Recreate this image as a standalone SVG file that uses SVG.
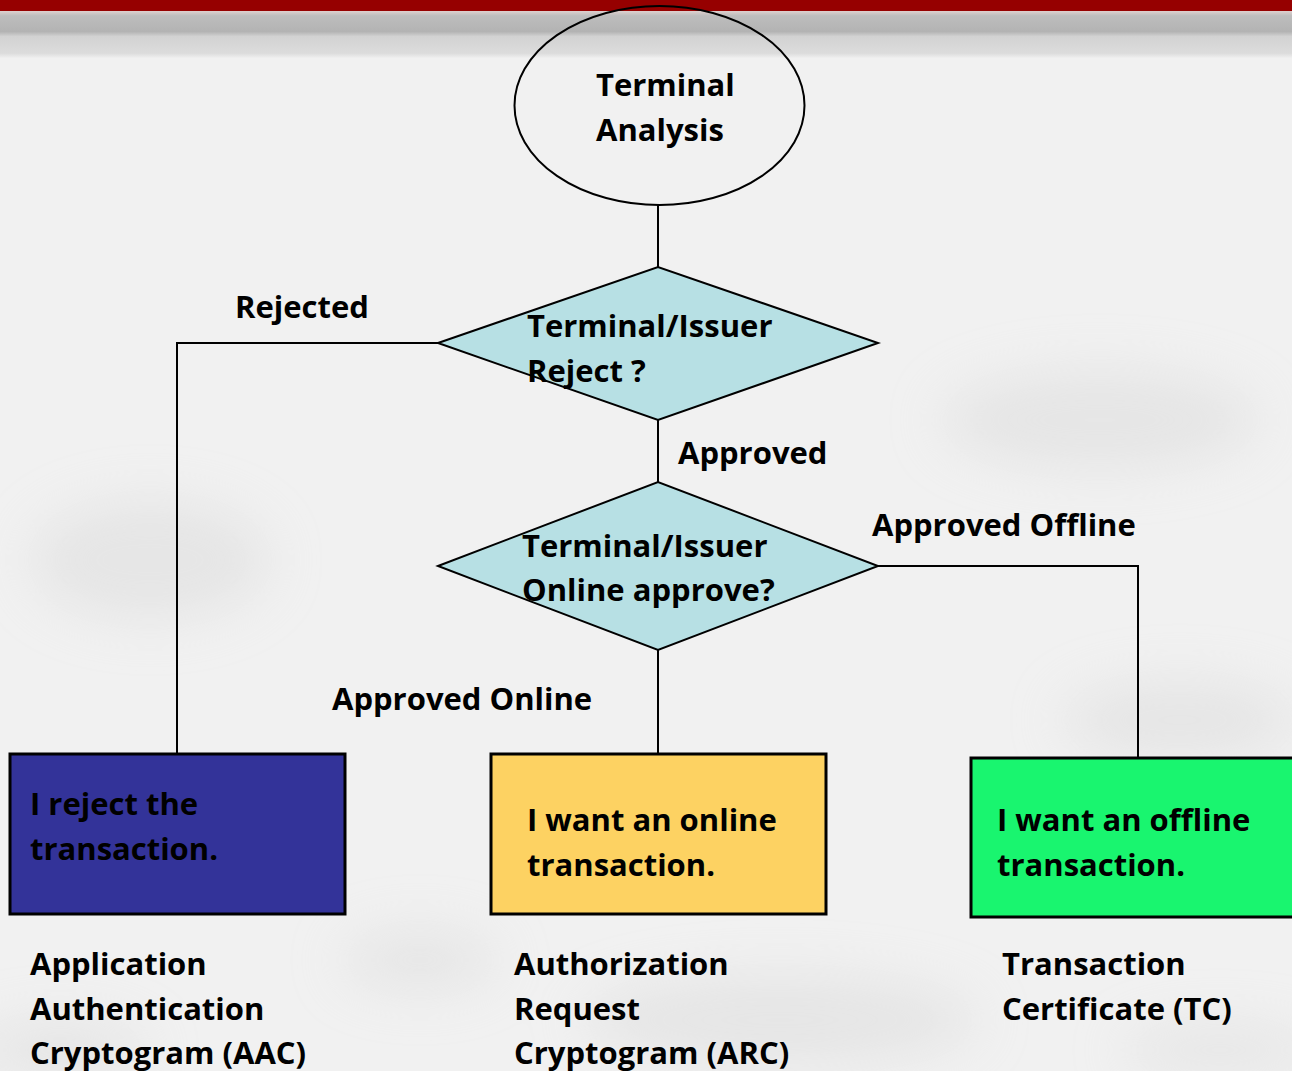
<svg xmlns="http://www.w3.org/2000/svg" width="1292" height="1071" viewBox="0 0 1292 1071">
  <defs>
    <linearGradient id="band" x1="0" y1="0" x2="0" y2="1">
      <stop offset="0" stop-color="#e6d4d2"/>
      <stop offset="0.12" stop-color="#bdbdbd"/>
      <stop offset="0.45" stop-color="#b3b3b3"/>
      <stop offset="0.55" stop-color="#d2d2d2"/>
      <stop offset="0.9" stop-color="#dcdcdc"/>
      <stop offset="1" stop-color="#f0f0f0"/>
    </linearGradient>
    <filter id="soft" x="-50%" y="-50%" width="200%" height="200%">
      <feGaussianBlur stdDeviation="26"/>
    </filter>
    <style>
      .t { font-family: "Open Sans", Lato, "Liberation Sans", sans-serif; font-weight: bold; font-size: 31px; fill: #000; }
      .line { fill: none; stroke: #000; stroke-width: 2; }
      .shape { stroke: #000; stroke-width: 2; }
      .box { stroke: #000; stroke-width: 3; }
    </style>
  </defs>

  <!-- backdrop -->
  <rect x="0" y="0" width="1292" height="1071" fill="#f1f1f1"/>
  <g filter="url(#soft)" fill="#dadada" opacity="0.5">
    <ellipse cx="150" cy="560" rx="120" ry="60"/>
    <ellipse cx="1100" cy="420" rx="160" ry="50"/>
    <ellipse cx="1180" cy="720" rx="120" ry="40"/>
    <ellipse cx="420" cy="960" rx="80" ry="30"/>
    <ellipse cx="780" cy="1020" rx="200" ry="45"/>
    <ellipse cx="1220" cy="1050" rx="100" ry="25"/>
    <ellipse cx="60" cy="1050" rx="90" ry="30"/>
  </g>
  <rect x="0" y="10" width="1292" height="48" fill="url(#band)"/>
  <rect x="0" y="0" width="1292" height="11" fill="#960000"/>

  <!-- connectors -->
  <g id="connectors">
    <path class="line" d="M658,205 V267"/>
    <path class="line" d="M658,420 V482"/>
    <path class="line" d="M438,343 H177 V754"/>
    <path class="line" d="M878,566 H1138 V758"/>
    <path class="line" d="M658,650 V754"/>
    <text class="t" x="235" y="318">Rejected</text>
    <text class="t" x="678" y="464">Approved</text>
    <text class="t" x="872" y="536">Approved Offline</text>
    <text class="t" x="332" y="710">Approved Online</text>
  </g>

  <g id="start">
    <ellipse class="shape" cx="659.5" cy="105.5" rx="145" ry="99.5" fill="none"/>
    <text class="t" x="596" y="96">Terminal</text>
    <text class="t" x="596" y="141">Analysis</text>
  </g>

  <g id="reject-decision">
    <polygon class="shape" points="438,343 658,267 878,343 658,420" fill="#b7e0e4"/>
    <text class="t" x="527" y="337">Terminal/Issuer</text>
    <text class="t" x="527" y="382">Reject ?</text>
  </g>

  <g id="online-decision">
    <polygon class="shape" points="438,566 658,482 878,566 658,650" fill="#b7e0e4"/>
    <text class="t" x="522" y="557">Terminal/Issuer</text>
    <text class="t" x="522" y="601">Online approve?</text>
  </g>

  <g id="aac">
    <rect class="box" x="10" y="754" width="335" height="160" fill="#333399"/>
    <text class="t" x="30" y="815">I reject the</text>
    <text class="t" x="30" y="860">transaction.</text>
    <text class="t" x="30" y="975">Application</text>
    <text class="t" x="30" y="1020">Authentication</text>
    <text class="t" x="30" y="1064">Cryptogram (AAC)</text>
  </g>

  <g id="arc">
    <rect class="box" x="491" y="754" width="335" height="160" fill="#fdd262"/>
    <text class="t" x="527" y="831">I want an online</text>
    <text class="t" x="527" y="876">transaction.</text>
    <text class="t" x="514" y="975">Authorization</text>
    <text class="t" x="514" y="1020">Request</text>
    <text class="t" x="514" y="1064">Cryptogram (ARC)</text>
  </g>

  <g id="tc">
    <rect class="box" x="971" y="758" width="335" height="159" fill="#19f56f"/>
    <text class="t" x="997" y="831">I want an offline</text>
    <text class="t" x="997" y="876">transaction.</text>
    <text class="t" x="1002" y="975">Transaction</text>
    <text class="t" x="1002" y="1020">Certificate (TC)</text>
  </g>
</svg>
